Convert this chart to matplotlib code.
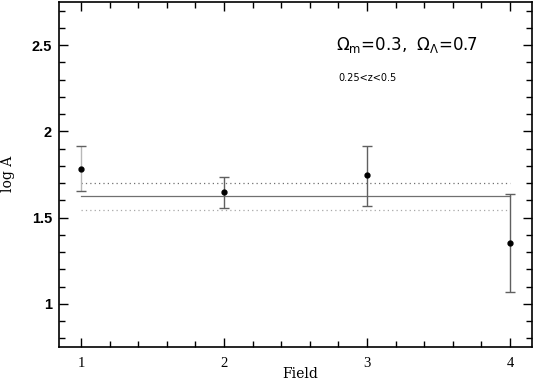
import numpy as np
import matplotlib
matplotlib.use("Agg")
import matplotlib.pyplot as plt

# field measurements
field = [1, 2, 3, 4]
log_a = [1.78, 1.647, 1.745, 1.353]
err_lo = [0.127, 0.092, 0.179, 0.284]
err_hi = [0.133, 0.087, 0.168, 0.283]
bar_col = ["#b8b8b8", "#606060", "#606060", "#606060"]

mean_val = 1.624
band = [1.545, 1.699]
band_col = ["#a8a8a8", "#707070"]

plt.rcParams['font.family'] = ['Liberation Serif', 'DejaVu Serif']

fig = plt.figure(figsize=(5.33, 3.80), dpi=100)
ax = fig.add_axes([0.1107, 0.0868, 0.8874, 0.9079])

for x, y, lo, hi, c in zip(field, log_a, err_lo, err_hi, bar_col):
    eb = ax.errorbar([x], [y], yerr=[[lo], [hi]], fmt='o', color='black', ms=3.5,
                     ecolor=c, elinewidth=1.0, capsize=3.5, capthick=1.0, zorder=3)
    for cap in eb[1]:
        cap.set_markeredgecolor('#606060')

ax.plot([field[0], field[-1]], [mean_val, mean_val], color='#707070', lw=0.9)
for b, c in zip(band, band_col):
    ax.plot([field[0], field[-1]], [b, b], color=c, lw=0.9, ls=(0, (1, 2.5)))

ax.set_xticks([1, 2, 3, 4])
ax.set_xticks(np.arange(1.2, 4.1, 0.2), minor=True)
ax.set_yticks([1, 1.5, 2, 2.5])
ax.set_yticklabels(['1', '1.5', '2', '2.5'], family='Liberation Sans',
                   fontweight='bold', fontsize=10.5)
ax.set_yticks(np.arange(0.8, 2.75, 0.1), minor=True)
ax.set_xlim(0.846, 4.154)
ax.set_ylim(0.75, 2.75)
ax.tick_params(which='both', direction='in', top=True, right=True, width=1.0)
ax.tick_params(axis='x', labelsize=10.5, pad=7)
ax.tick_params(axis='y', pad=5)
ax.tick_params(which='major', length=6.5)
ax.tick_params(which='minor', length=4.3)
for s in ax.spines.values():
    s.set_linewidth(1.2)

fig.text(300 / 533, 1 - 374 / 380, 'Field', fontsize=10, family='DejaVu Serif',
         ha='center', va='center')
fig.text(8 / 533, 1 - 174 / 380, 'log A', fontsize=10, family='DejaVu Serif',
         ha='center', va='center', rotation=90)

ax.text(0.585, 0.875, r'$\Omega_{\rm m}$=0.3,  $\Omega_\Lambda$=0.7',
        transform=ax.transAxes, fontsize=12, family='DejaVu Sans',
        ha='left', va='center')
ax.text(0.59, 0.78, '0.25<z<0.5', transform=ax.transAxes, fontsize=7,
        family='DejaVu Sans', ha='left', va='center')

fig.savefig('out.png', dpi=100)
